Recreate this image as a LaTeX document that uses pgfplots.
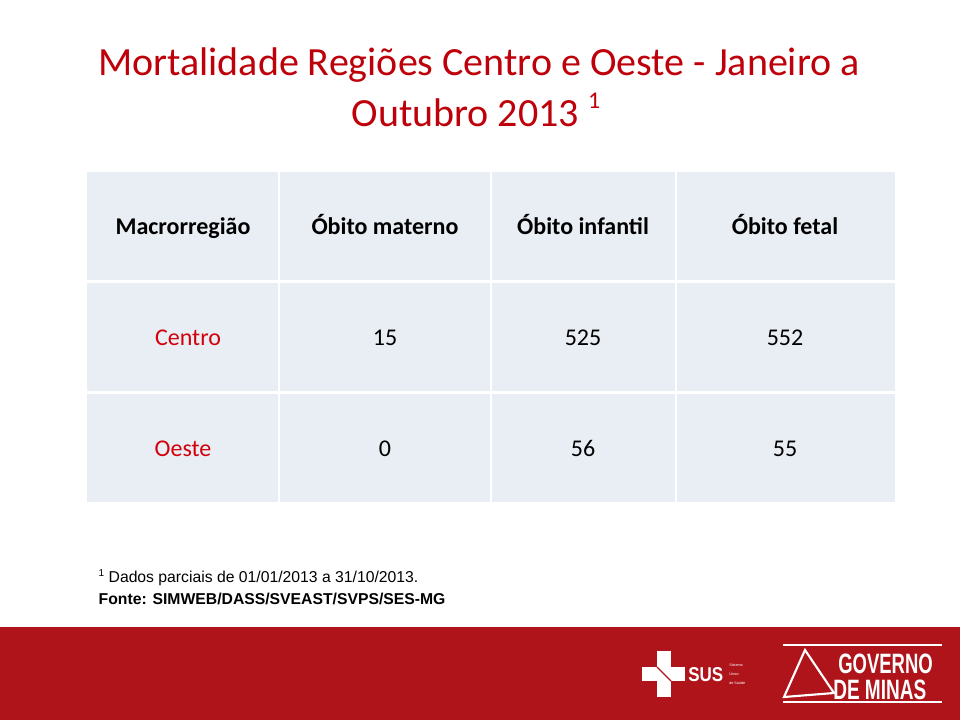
\documentclass[border=0pt]{standalone}
\usepackage{pgfplots}
\pgfplotsset{compat=1.18}
\usepackage{fontspec}
\setmainfont{Carlito}
\newfontfamily\arial{Liberation Sans}
\definecolor{titlered}{RGB}{190,0,10}
\definecolor{rowred}{RGB}{210,0,10}
\definecolor{cellbg}{RGB}{233,237,244}
\definecolor{band}{RGB}{174,20,26}
\tikzset{cell/.style={text height=1.5ex, text depth=0.25ex, inner sep=0pt,
    yshift=-3pt, font=\fontsize{18}{22}\selectfont}}

% values: column, row, value
\pgfplotstableread{
col row val
385 338 15
583 338 525
785 338 552
385 449 0
583 449 56
785 449 55
}\mortdata

\begin{document}
\begin{tikzpicture}
\begin{axis}[
    width=720pt, height=540pt, scale only axis,
    xmin=0, xmax=960, ymin=0, ymax=720, y dir=reverse,
    axis lines=none, clip=false,
  ]
  % page background and bottom band
  \fill[white] (axis cs:0,0) rectangle (axis cs:960,720);
  \fill[band] (axis cs:0,627) rectangle (axis cs:960,720);

  % title
  \node[text=titlered, font=\fontsize{30}{34}\selectfont] at (axis cs:479,65)
    {Mortalidade Regiões Centro e Oeste - Janeiro a};
  \node[text=titlered, font=\fontsize{30}{34}\selectfont] at (axis cs:476,110)
    {Outubro 2013 \raisebox{0.45em}{\fontsize{18}{20}\selectfont 1}};

  % table cells
  \fill[cellbg] (axis cs:87,172) rectangle (axis cs:278,280);
  \fill[cellbg] (axis cs:280,172) rectangle (axis cs:490,280);
  \fill[cellbg] (axis cs:492,172) rectangle (axis cs:675,280);
  \fill[cellbg] (axis cs:677,172) rectangle (axis cs:895,280);
  \fill[cellbg] (axis cs:87,283) rectangle (axis cs:278,391);
  \fill[cellbg] (axis cs:280,283) rectangle (axis cs:490,391);
  \fill[cellbg] (axis cs:492,283) rectangle (axis cs:675,391);
  \fill[cellbg] (axis cs:677,283) rectangle (axis cs:895,391);
  \fill[cellbg] (axis cs:87,394) rectangle (axis cs:278,502);
  \fill[cellbg] (axis cs:280,394) rectangle (axis cs:490,502);
  \fill[cellbg] (axis cs:492,394) rectangle (axis cs:675,502);
  \fill[cellbg] (axis cs:677,394) rectangle (axis cs:895,502);

  % headers
  \node[cell, font=\fontsize{18}{22}\selectfont\bfseries] at (axis cs:183,227) {Macrorregião};
  \node[cell, font=\fontsize{18}{22}\selectfont\bfseries] at (axis cs:385,227) {Óbito materno};
  \node[cell, font=\fontsize{18}{22}\selectfont\bfseries] at (axis cs:583,227) {Óbito infantil};
  \node[cell, font=\fontsize{18}{22}\selectfont\bfseries] at (axis cs:785,227) {Óbito fetal};
  \node[cell, text=rowred] at (axis cs:188,338) {Centro};
  \node[cell, text=rowred] at (axis cs:183,449) {Oeste};

  % values
  \addplot[only marks, mark=none,
    point meta=explicit symbolic,
    nodes near coords={\pgfplotspointmeta},
    nodes near coords style={anchor=center, cell, text=black},
  ] table[x=col, y=row, meta=val] {\mortdata};

  % footnotes
  \node[anchor=west, font=\arial\fontsize{11.8}{14}\selectfont] at (axis cs:94,578)
    {\raisebox{0.4em}{\fontsize{7.5}{8}\selectfont 1} Dados parciais de 01/01/2013 a 31/10/2013.};
  \node[anchor=west, font=\arial\bfseries\fontsize{11.8}{14}\selectfont] at (axis cs:94,599)
    {Fonte: SIMWEB/DASS/SVEAST/SVPS/SES-MG};

  % SUS logo
  \fill[white] (axis cs:657,651) rectangle (axis cs:671,697);
  \fill[white] (axis cs:642,667) rectangle (axis cs:685,681);
  \draw[band, line width=0.8pt] (axis cs:657,667) -- (axis cs:671,681);
  \node[text=white, font=\arial\bfseries\fontsize{15}{16}\selectfont, anchor=west, inner sep=0pt] at (axis cs:688,675) {\scalebox{0.85}[1]{SUS}};
  \node[text=white, font=\arial\fontsize{2.8}{3}\selectfont, anchor=base west, inner sep=0pt] at (axis cs:729,666) {Sistema};
  \node[text=white, font=\arial\fontsize{2.8}{3}\selectfont, anchor=base west, inner sep=0pt] at (axis cs:729,675) {Único};
  \node[text=white, font=\arial\fontsize{2.8}{3}\selectfont, anchor=base west, inner sep=0pt] at (axis cs:729,684) {de Saúde};

  % Governo de Minas logo
  \draw[white, line width=1.2pt] (axis cs:783,645) -- (axis cs:942,645);
  \draw[white, line width=1.2pt] (axis cs:783,702) -- (axis cs:942,702);
  \draw[white, line width=1.6pt] (axis cs:784,697) -- (axis cs:805,650) -- (axis cs:834,693) -- cycle;
  \node[text=white, font=\arial\bfseries\fontsize{21}{21}\selectfont, anchor=base west, inner sep=0pt] at (axis cs:838,673) {\scalebox{0.66}[1]{GOVERNO}};
  \node[text=white, font=\arial\bfseries\fontsize{21}{21}\selectfont, anchor=base west, inner sep=0pt] at (axis cs:833,699) {\scalebox{0.68}[1]{DE MINAS}};
\end{axis}
\end{tikzpicture}
\end{document}
